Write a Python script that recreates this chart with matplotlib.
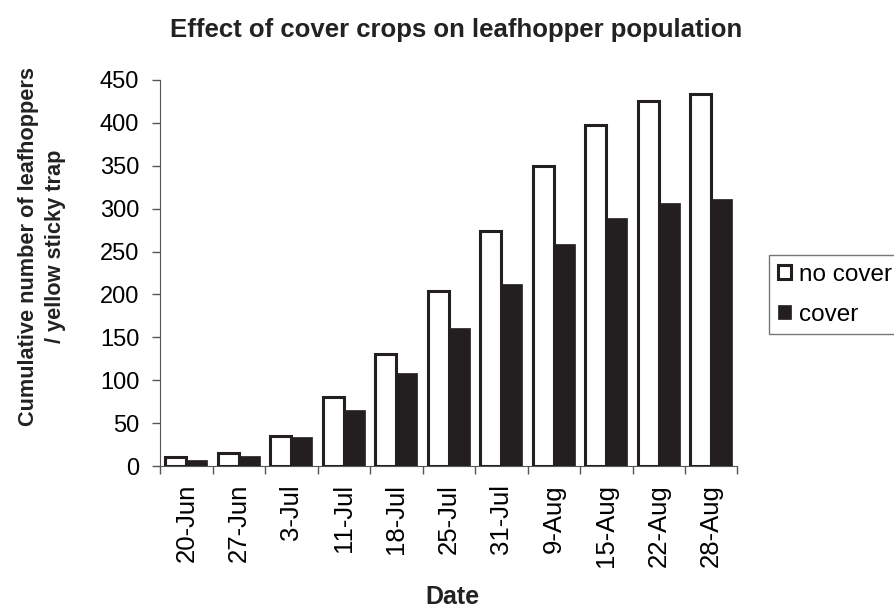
import numpy as np
import matplotlib.pyplot as plt

plt.rcParams['font.family'] = ['Liberation Sans', 'DejaVu Sans']

# Data
dates = ['20-Jun', '27-Jun', '3-Jul', '11-Jul', '18-Jul', '25-Jul',
         '31-Jul', '9-Aug', '15-Aug', '22-Aug', '28-Aug']
no_cover = [10, 15, 35, 81, 130, 204, 274, 350, 397, 425, 433]
cover = [7, 12, 34, 65, 109, 161, 212, 259, 289, 306, 311]

fig = plt.figure(figsize=(8.95, 6.1), dpi=100)
ax = fig.add_axes([0.179, 0.236, 0.645, 0.633])

x = np.arange(len(dates))
w = 0.4
dark = '#231f20'
grey = '#555555'
ax.bar(x - w / 2, no_cover, w, color='white', edgecolor=dark, linewidth=2.2,
       label='no cover', zorder=3)
ax.bar(x + w / 2, cover, w, color=dark, edgecolor=dark, linewidth=0.5,
       label='cover', zorder=2)

ax.set_xlim(-0.5, len(dates) - 0.5)
ax.set_ylim(0, 450)
ax.set_yticks(range(0, 451, 50))
# category boundaries carry the tick marks, labels sit in the middle
ax.set_xticks(np.arange(-0.5, len(dates), 1))
ax.set_xticklabels([])
ax.set_xticks(x, minor=True)
ax.set_xticklabels(dates, minor=True, rotation=90, fontsize=18.5)
ax.tick_params(axis='x', which='minor', length=0, pad=13)
ax.tick_params(axis='x', which='major', length=6, width=1, color=grey)
ax.tick_params(axis='y', length=6, width=1, color=grey, labelsize=17, pad=9)

for s in ['top', 'right']:
    ax.spines[s].set_visible(False)
ax.spines['left'].set_color(grey)
ax.spines['bottom'].set_color(grey)

fig.text(456 / 895, 1 - 30 / 610, 'Effect of cover crops on leafhopper population',
         fontsize=18.5, fontweight='bold', ha='center', va='center', color='#222222')
fig.text(42 / 895, 1 - 246 / 610,
         'Cumulative number of leafhoppers\n/ yellow sticky trap',
         fontsize=15.7, fontweight='bold', rotation=90, ha='center', va='center',
         multialignment='center', linespacing=1.4, color='#222222')
fig.text(452 / 895, 1 - 597 / 610, 'Date', fontsize=18, fontweight='bold',
         ha='center', va='center', color='#222222')

leg = fig.legend(loc='upper left', bbox_to_anchor=(769 / 895, 1 - 255 / 610),
                 fontsize=17.5, frameon=True, fancybox=False, edgecolor=grey,
                 handlelength=0.55, handleheight=0.55, handletextpad=0.35,
                 borderpad=0.35, labelspacing=0.75, borderaxespad=0)
leg.get_frame().set_linewidth(1.0)

fig.savefig('out.png', dpi=100)
